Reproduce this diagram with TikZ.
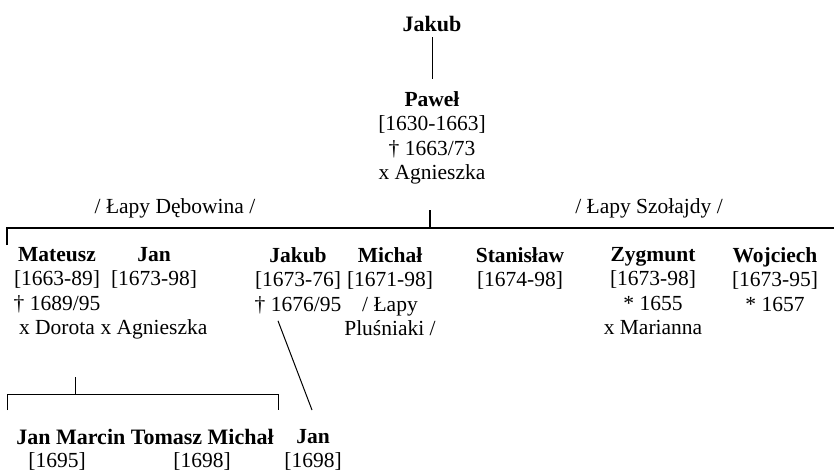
\documentclass[tikz,border=0pt]{standalone}
\usepackage{fontspec}
\setmainfont{Liberation Serif}
\usetikzlibrary{positioning}

\begin{document}
\begin{tikzpicture}[x=1pt, y=-1pt,
    person/.style={inner sep=0pt, anchor=north, align=center, font=\fontsize{21.5}{24.5}\selectfont},
    boldname/.style={inner sep=0pt, anchor=base, font=\fontsize{22}{24.5}\selectfont\bfseries},
    plaintext/.style={inner sep=0pt, anchor=base, font=\fontsize{21.5}{24.5}\selectfont},
    bar/.style={line width=1.5pt},
    link/.style={line width=1pt},
]
\useasboundingbox (0,0) rectangle (834,474);

\node[boldname] (jakub) at (432,31) {Jakub};
\node[person] (pawel) at (432,91) {\textbf{Paweł}\\{[1630-1663]}\\† 1663/73\\x Agnieszka};

\node[plaintext] (debowina) at (175,213) {/ Łapy Dębowina /};
\node[plaintext] (szolajdy) at (649,213) {/ Łapy Szołajdy /};

% sons of Pawel
\node[person] (mateusz) at (57,247) {\textbf{Mateusz}\\{[1663-89]}\\† 1689/95\\x Dorota};
\node[person] (jan) at (154,247) {\textbf{Jan}\\{[1673-98]}\\\mbox{}\\x Agnieszka};
\node[person] (jakubc) at (298,247) {\textbf{Jakub}\\{[1673-76]}\\† 1676/95};
\node[person] (michal) at (390,247) {\textbf{Michał}\\{[1671-98]}\\/ Łapy\\Pluśniaki /};
\node[person] (stanislaw) at (520,247) {\textbf{Stanisław}\\{[1674-98]}};
\node[person] (zygmunt) at (653,247) {\textbf{Zygmunt}\\{[1673-98]}\\* 1655\\x Marianna};
\node[person] (wojciech) at (775,247) {\textbf{Wojciech}\\{[1673-95]}\\* 1657};

% grandsons
\node[boldname] (wnuki) at (145,444) {Jan Marcin Tomasz Michał};
\node[plaintext] (d1695) at (57,467) {[1695]};
\node[plaintext] (d1698) at (202,467) {[1698]};
\node[person] (janb) at (313,429) {\textbf{Jan}\\{[1698]}};

\coordinate (tickP) at (430,210);
\coordinate (barL) at (7,228);
\coordinate (barR) at (834,228);
\coordinate (famT) at (75,377);
\coordinate (famL) at (7,394);
\coordinate (famR) at (278,394);

\draw[link, shorten <=6pt, shorten >=12pt] (jakub) -- (pawel);
\draw[bar] (barL) ++(0,17) -- (barL) -- (barR);
\draw[bar] (tickP) -- (tickP |- barL);
\draw[link] (famT) -- (famT |- famL);
\draw[link] (famL) ++(0,16) -- (famL) -- (famR) -- ++(0,16);
\draw[link] ([shift={(-20,7)}]jakubc.south) -- ([shift={(-1,-19)}]janb.north);

\end{tikzpicture}
\end{document}
